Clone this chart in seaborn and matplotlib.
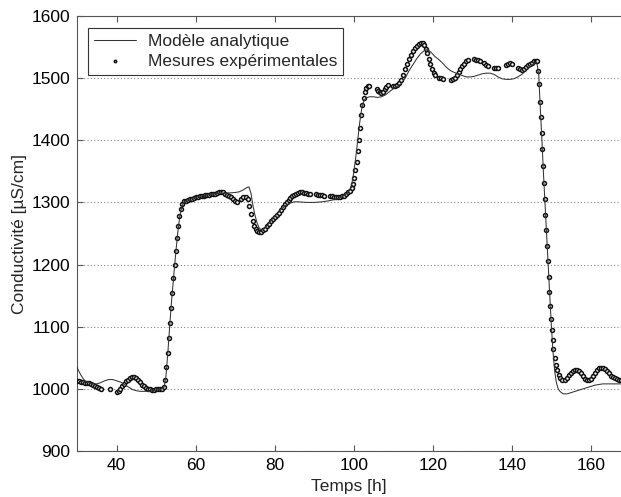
import matplotlib
matplotlib.use("Agg")
import matplotlib.pyplot as plt
import seaborn as sns
import numpy as np
import pandas as pd

# ---- data: analytical model (line) ----
model_t = [30.0, 30.5, 31.0, 31.5, 32.0, 33.0, 34.0, 35.0, 36.0, 37.0, 38.0, 39.0, 40.0, 41.0,
           42.0, 43.0, 44.0, 45.0, 46.0, 47.0, 48.0, 49.0, 50.0, 51.0, 52.0, 52.5, 53.0, 53.5,
           54.0, 54.5, 55.0, 55.5, 56.0, 56.5, 57.0, 58.0, 60.0, 62.0, 64.0, 66.0, 68.0, 70.0,
           71.0, 72.0, 73.0, 73.5, 74.0, 74.5, 75.0, 75.5, 76.0, 76.5, 77.0, 78.0, 79.0, 80.0,
           81.0, 82.0, 83.0, 84.0, 85.0, 86.0, 88.0, 90.0, 92.0, 94.0, 96.0, 97.0, 98.0, 99.0,
           99.5, 100.0, 100.5, 101.0, 101.5, 102.0, 102.5, 103.0, 104.0, 105.0, 106.0, 107.0,
           108.0, 109.0, 110.0, 111.0, 112.0, 113.0, 114.0, 115.0, 116.0, 117.0, 118.0, 118.7,
           119.5, 120.5, 121.5, 122.5, 123.5, 124.5, 125.5, 126.5, 127.5, 128.5, 129.5, 130.5,
           131.5, 132.5, 133.5, 134.5, 135.5, 136.5, 137.5, 138.5, 139.5, 140.5, 141.5, 142.5,
           143.5, 144.5, 145.5, 146.3, 146.8, 147.2, 147.6, 148.0, 148.4, 148.8, 149.2, 149.6,
           150.0, 150.4, 150.8, 151.2, 151.6, 152.0, 152.5, 153.0, 154.0, 155.0, 156.0, 157.0,
           158.0, 159.0, 160.0, 161.0, 162.0, 163.0, 164.0, 165.0, 166.0, 167.5]
model_c = [1035, 1028, 1022, 1017, 1013, 1010, 1008, 1008, 1010, 1013, 1015, 1015, 1013, 1011,
           1007, 1003, 999, 997, 996, 996, 996, 997, 998, 999, 1002, 1020, 1060, 1106,
           1148, 1185, 1220, 1252, 1278, 1293, 1300, 1304, 1308, 1311, 1313, 1315, 1315, 1316,
           1317, 1320, 1324, 1325, 1315, 1295, 1280, 1268, 1260, 1256, 1256, 1262, 1270, 1278,
           1285, 1291, 1296, 1299, 1301, 1301, 1300, 1300, 1301, 1303, 1306, 1309, 1313, 1320,
           1330, 1348, 1372, 1400, 1428, 1450, 1462, 1468, 1470, 1470, 1469, 1470,
           1473, 1478, 1483, 1487, 1491, 1500, 1512, 1522, 1532, 1540, 1545, 1546,
           1542, 1535, 1530, 1524, 1517, 1512, 1509, 1507, 1504, 1502, 1502, 1503,
           1505, 1507, 1508, 1508, 1506, 1502, 1499, 1498, 1498, 1499, 1502, 1506,
           1512, 1518, 1523, 1526, 1505, 1450, 1400, 1345, 1295, 1245, 1195, 1148,
           1100, 1060, 1030, 1012, 1002, 997, 994, 992, 992, 994, 996, 998,
           1000, 1002, 1004, 1006, 1007, 1008, 1008, 1008, 1008, 1008]

# ---- data: experimental measurements (markers) ----
meas_t = [30.0, 30.5, 31.0, 31.5, 32.0, 32.5, 33.0, 33.5, 34.0, 34.5, 35.0, 35.5, 36.0,
          38.3,
          40.0, 40.5, 41.0, 41.5, 42.0, 42.5, 43.0, 43.5, 44.0, 44.5, 45.0, 45.5, 46.0, 46.5,
          47.0, 47.5, 48.0, 48.5, 49.0, 49.5, 50.0, 50.5, 51.0, 51.5, 52.0,
          52.3, 52.6, 52.9, 53.2, 53.5, 53.8, 54.1, 54.4, 54.7, 55.0, 55.3, 55.6, 55.9, 56.2,
          56.6, 57.0,
          57.5, 58.0, 58.5, 59.0, 59.5, 60.0, 60.5, 61.0, 61.5, 62.0, 62.5, 63.0, 63.5, 64.0,
          64.5, 65.0, 65.5, 66.0, 66.5, 67.0, 67.5, 68.0, 68.5, 69.0, 69.5, 70.0, 70.5,
          71.5, 72.0,
          72.8, 73.2, 73.6, 74.0, 74.4, 74.8, 75.2, 75.6, 76.0, 76.5, 77.0, 77.5, 78.0, 78.5,
          79.0, 79.5, 80.0, 80.5, 81.0, 81.5, 82.0, 82.5, 83.0, 83.5, 84.0, 84.5, 85.0, 85.5,
          86.0, 86.5, 87.0, 87.5, 88.0, 88.5, 89.0,
          90.5, 91.0, 91.5, 92.0, 92.5,
          94.0, 94.5, 95.0, 95.5, 96.0, 96.5, 97.0, 97.5, 98.0, 98.5, 99.0, 99.5,
          99.8, 100.1, 100.4, 100.7, 101.0, 101.3, 101.6, 101.9, 102.2, 102.5, 102.8, 103.1,
          103.5, 103.9,
          105.8, 106.2, 106.6, 107.0, 107.4, 107.8, 108.2, 108.6,
          110.0, 110.5, 111.0, 111.5, 112.0, 112.5, 113.0, 113.5, 114.0, 114.5, 115.0, 115.5,
          116.0, 116.5, 117.0, 117.4, 117.8, 118.2, 118.6, 119.0, 119.4, 119.8, 120.2, 120.6,
          121.5, 122.0, 122.5,
          124.5, 125.0, 125.5, 126.0, 126.5, 127.0, 127.5, 128.0, 128.5, 129.0,
          130.5, 131.0, 131.5, 132.0,
          133.0, 133.5, 134.0,
          135.5, 136.0, 136.5,
          138.5, 139.0, 139.5, 140.0,
          141.5, 142.0, 142.5, 143.0, 143.5, 144.0, 144.5, 145.0, 145.5, 146.0, 146.4,
          146.7, 146.9, 147.1, 147.3, 147.5, 147.7, 147.9, 148.1, 148.3, 148.5, 148.7, 148.9,
          149.1, 149.3, 149.5, 149.7, 149.9, 150.1, 150.3, 150.5, 150.8, 151.1, 151.4, 151.8,
          152.2, 152.6,
          153.5, 154.0, 154.5, 155.0, 155.5, 156.0, 156.5, 157.0, 157.5, 158.0, 158.5, 159.0,
          159.5, 160.0, 160.5, 161.0, 161.5, 162.0, 162.5, 163.0, 163.5, 164.0, 164.5, 165.0,
          165.5, 166.0, 166.5, 167.0, 167.5]
meas_c = [1012, 1012, 1011, 1011, 1010, 1010, 1009, 1008, 1006, 1004, 1003, 1001, 1000,
          999,
          995, 996, 1000, 1004, 1008, 1012, 1015, 1018, 1019, 1019, 1017, 1015, 1011, 1007,
          1004, 1001, 1000, 999, 998, 998, 999, 1000, 1000, 1000, 1003,
          1015, 1035, 1058, 1082, 1106, 1130, 1154, 1178, 1200, 1222, 1243, 1262, 1278, 1290,
          1298, 1302,
          1303, 1304, 1305, 1305, 1307, 1308, 1309, 1310, 1310, 1311, 1312, 1312, 1312, 1313,
          1313, 1314, 1315, 1316, 1317, 1316, 1314, 1312, 1310, 1308, 1306, 1303, 1301,
          1305, 1308,
          1309, 1305, 1295, 1282, 1270, 1262, 1257, 1254, 1253, 1253, 1255, 1258, 1262, 1266,
          1270, 1273, 1276, 1279, 1283, 1288, 1293, 1297, 1301, 1304, 1307, 1310, 1312, 1314,
          1315, 1316, 1316, 1315, 1315, 1314, 1314,
          1313, 1312, 1312, 1312, 1311,
          1310, 1310, 1309, 1309, 1309, 1309, 1310, 1311, 1313, 1316, 1319, 1324,
          1330, 1340, 1352, 1365, 1382, 1400, 1420, 1440, 1456, 1468, 1478, 1484,
          1487, 1488,
          1482, 1479, 1477, 1476, 1478, 1482, 1486, 1489,
          1488, 1488, 1489, 1492, 1497, 1505, 1514, 1523, 1531, 1538, 1543, 1548,
          1552, 1555, 1557, 1556, 1553, 1547, 1540, 1531, 1522, 1515, 1509, 1505,
          1501, 1500, 1499,
          1497, 1498, 1501, 1505, 1510, 1515, 1519, 1523, 1527, 1529,
          1531, 1530, 1529, 1528,
          1524, 1521, 1519,
          1516, 1516, 1517,
          1521, 1523, 1524, 1522,
          1516, 1514, 1513, 1515, 1518, 1521, 1523, 1525, 1527, 1528, 1527,
          1512, 1490, 1462, 1437, 1412, 1386, 1358, 1332, 1306, 1280, 1255, 1230,
          1205, 1180, 1156, 1133, 1112, 1094, 1078, 1064, 1050, 1039, 1030, 1023,
          1018, 1015,
          1015, 1018, 1022, 1026, 1029, 1031, 1031, 1029, 1025, 1020, 1016, 1014,
          1014, 1016, 1020, 1025, 1030, 1033, 1034, 1034, 1032, 1029, 1025, 1021,
          1019, 1017, 1016, 1015, 1014]

model_df = pd.DataFrame({"Temps": model_t, "Conductivite": model_c})
meas_df = pd.DataFrame({"Temps": meas_t, "Conductivite": meas_c})

sns.set_theme(style="white")
plt.rcParams["font.family"] = ["Liberation Sans", "DejaVu Sans"]

fig = plt.figure(figsize=(6.21, 4.97), dpi=100)
ax = fig.add_axes([77 / 621, 1 - 451 / 497, (621 - 77) / 621, (451 - 16) / 497])

sns.scatterplot(data=meas_df, x="Temps", y="Conductivite", ax=ax, marker="o",
                s=8, facecolor="white", edgecolor="#111111", linewidth=1.1,
                label="Mesures expérimentales", zorder=3)
sns.lineplot(data=model_df, x="Temps", y="Conductivite", ax=ax, color="#333333",
             linewidth=0.75, label="Modèle analytique", zorder=4, sort=False)

ax.set_xlim(30, 167.6)
ax.set_ylim(900, 1600)
ax.set_xticks([40, 60, 80, 100, 120, 140, 160])
ax.set_yticks([900, 1000, 1100, 1200, 1300, 1400, 1500, 1600])
ax.tick_params(axis="both", direction="in", length=4, width=0.8, color="#555555",
               labelsize=12.5, labelcolor="black", top=True, right=False, bottom=True, left=True,
               pad=5)
ax.yaxis.grid(True, linestyle=(0, (1, 2)), color="#888888", linewidth=0.8)
ax.xaxis.grid(False)
for side in ["left", "bottom", "top"]:
    ax.spines[side].set_visible(True)
    ax.spines[side].set_color("#555555")
    ax.spines[side].set_linewidth(0.8)
ax.spines["right"].set_visible(False)

ax.set_xlabel("Temps [h]", fontsize=12.5, labelpad=4)
ax.set_ylabel("Conductivité [µS/cm]", fontsize=12.5, labelpad=3)

handles, labels = ax.get_legend_handles_labels()
order = [labels.index("Modèle analytique"), labels.index("Mesures expérimentales")]
leg = ax.legend([handles[i] for i in order], [labels[i] for i in order],
                loc="upper left", bbox_to_anchor=(0.02, 0.972), borderaxespad=0,
                fontsize=12.5,
                frameon=True, fancybox=False, edgecolor="#333333", framealpha=1,
                borderpad=0.35, labelspacing=0.25, handlelength=2.4, handletextpad=0.7,
                markerscale=0.6)
leg.get_frame().set_linewidth(0.8)

fig.savefig("out.png", dpi=100)
